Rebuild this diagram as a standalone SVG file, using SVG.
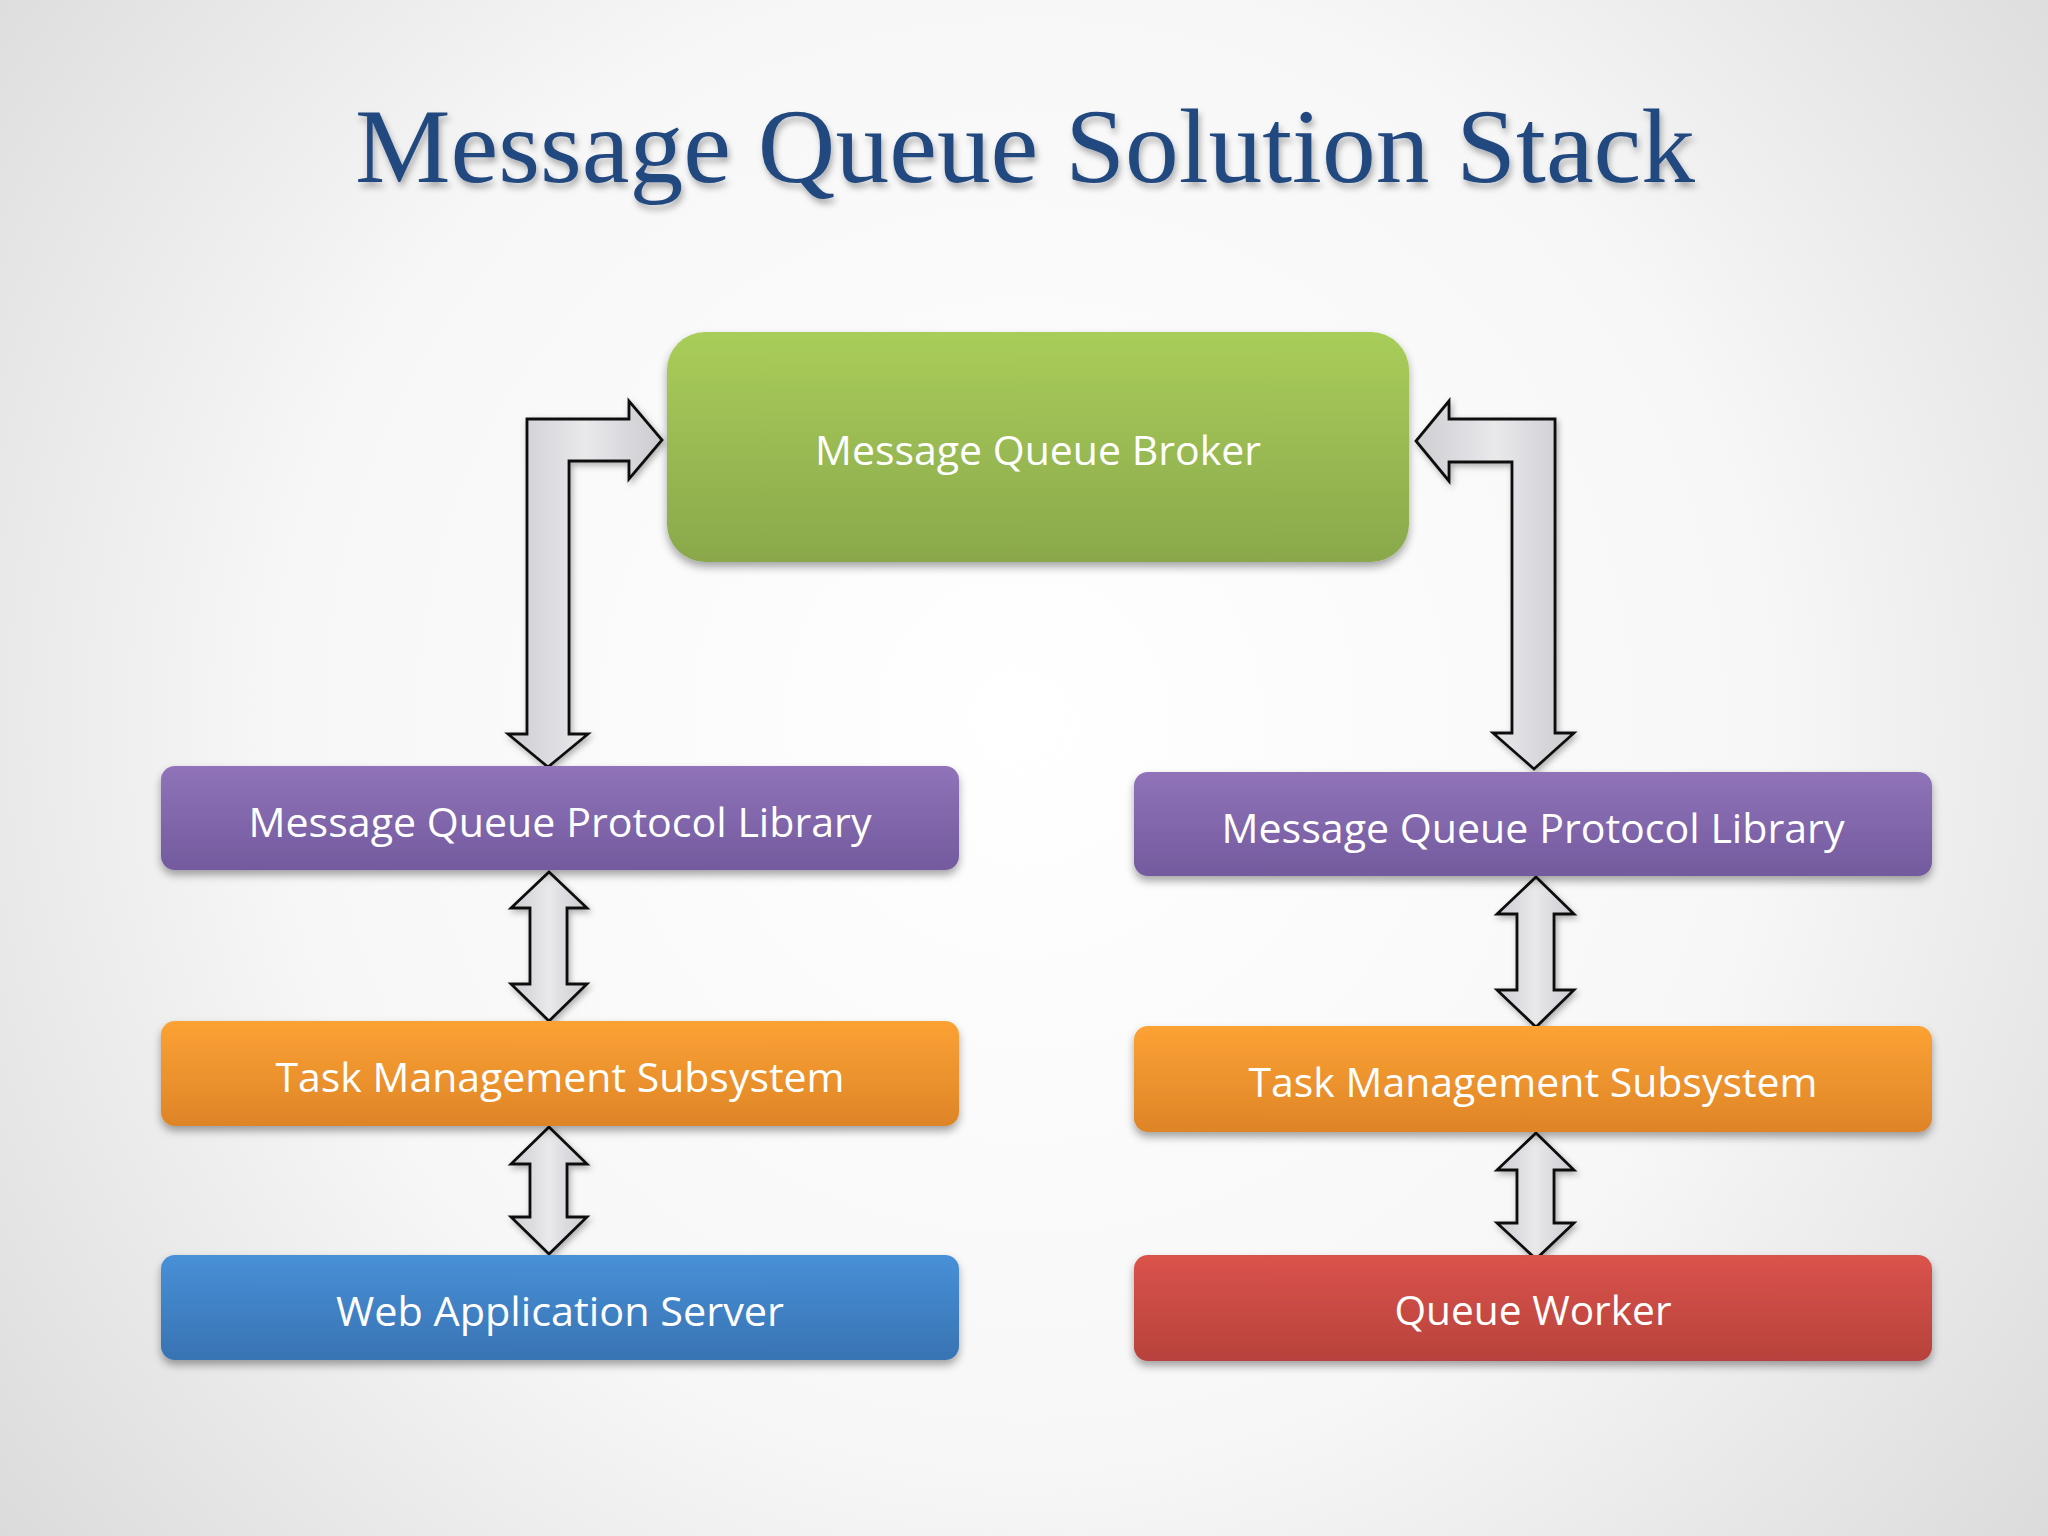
<svg xmlns="http://www.w3.org/2000/svg" width="2048" height="1536" viewBox="0 0 2048 1536">
<defs>
<radialGradient id="bg" cx="1024" cy="720" r="1350" gradientUnits="userSpaceOnUse">
<stop offset="0" stop-color="#ffffff"/>
<stop offset="0.55" stop-color="#f7f7f7"/>
<stop offset="1" stop-color="#d9d9d9"/>
</radialGradient>
<linearGradient id="gGreen" x1="0" y1="0" x2="0" y2="1">
<stop offset="0" stop-color="#a9cd5a"/>
<stop offset="1" stop-color="#8aa84b"/>
</linearGradient>
<linearGradient id="gPurple" x1="0" y1="0" x2="0" y2="1">
<stop offset="0" stop-color="#9073b9"/>
<stop offset="1" stop-color="#735a9e"/>
</linearGradient>
<linearGradient id="gOrange" x1="0" y1="0" x2="0" y2="1">
<stop offset="0" stop-color="#fca234"/>
<stop offset="1" stop-color="#de8428"/>
</linearGradient>
<linearGradient id="gBlue" x1="0" y1="0" x2="0" y2="1">
<stop offset="0" stop-color="#4890d7"/>
<stop offset="1" stop-color="#3873b3"/>
</linearGradient>
<linearGradient id="gRed" x1="0" y1="0" x2="0" y2="1">
<stop offset="0" stop-color="#da534b"/>
<stop offset="1" stop-color="#b7423c"/>
</linearGradient>
<linearGradient id="gArrow" x1="0" y1="0" x2="1" y2="0">
<stop offset="0" stop-color="#cdcdd2"/>
<stop offset="0.5" stop-color="#e9e9ec"/>
<stop offset="1" stop-color="#cbcbd0"/>
</linearGradient>
<filter id="shadow" x="-10%" y="-20%" width="120%" height="150%">
<feDropShadow dx="0" dy="5" stdDeviation="4" flood-color="#000" flood-opacity="0.35"/>
</filter>
<filter id="ashadow" x="-20%" y="-20%" width="140%" height="140%">
<feDropShadow dx="2" dy="3" stdDeviation="3" flood-color="#000" flood-opacity="0.3"/>
</filter>
<filter id="tshadow" x="-5%" y="-20%" width="110%" height="150%">
<feDropShadow dx="2" dy="5" stdDeviation="3" flood-color="#000" flood-opacity="0.3"/>
</filter>
</defs>
<style>
.lbl{font-family:"Open Sans","Noto Sans",sans-serif;fill:#ffffff;text-anchor:middle;}
.box{filter:url(#shadow);}
.arr{stroke:#111;stroke-width:2.8;stroke-linejoin:miter;filter:url(#ashadow);}
.title{font-family:"Liberation Serif","DejaVu Serif",serif;fill:#23497f;text-anchor:middle;filter:url(#tshadow);}
</style>
<rect x="0" y="0" width="2048" height="1536" fill="url(#bg)"/>

<text class="title" x="1025" y="182" font-size="106" textLength="1340" lengthAdjust="spacingAndGlyphs">Message Queue Solution Stack</text>

<g id="connectors">
<path class="arr" fill="url(#gArrow)" d="M527,419 L629,419 L629,401 L662,440 L629,479 L629,461 L569,461 L569,734 L588,734 L548,767 L508,734 L527,734 Z"/>
<path class="arr" fill="url(#gArrow)" d="M1555,419 L1449,419 L1449,401 L1416,441 L1449,481 L1449,462 L1512,462 L1512,733 L1493,733 L1534,769 L1574,733 L1555,733 Z"/>
<path class="arr" fill="url(#gArrow)" d="M549,872 L587,908 L567,908 L567,984 L587,984 L549,1021 L511,984 L530,984 L530,908 L511,908 Z"/>
<path class="arr" fill="url(#gArrow)" d="M549,1127 L587,1164 L567,1164 L567,1217 L587,1217 L549,1254 L511,1217 L530,1217 L530,1164 L511,1164 Z"/>
<path class="arr" fill="url(#gArrow)" d="M1536,877 L1574,914 L1554,914 L1554,990 L1574,990 L1536,1027 L1497,990 L1517,990 L1517,914 L1497,914 Z"/>
<path class="arr" fill="url(#gArrow)" d="M1536,1133 L1574,1170 L1554,1170 L1554,1223 L1574,1223 L1536,1259 L1497,1223 L1517,1223 L1517,1170 L1497,1170 Z"/>
</g>

<g id="broker">
<rect class="box" x="667" y="332" width="742" height="230" rx="38" fill="url(#gGreen)"/>
<text class="lbl" x="1038" y="465" font-size="41" textLength="446" lengthAdjust="spacingAndGlyphs">Message Queue Broker</text>
</g>

<g id="protocol-left">
<rect class="box" x="161" y="766" width="798" height="104" rx="14" fill="url(#gPurple)"/>
<text class="lbl" x="560" y="837" font-size="40" textLength="623" lengthAdjust="spacingAndGlyphs">Message Queue Protocol Library</text>
</g>
<g id="task-left">
<rect class="box" x="161" y="1021" width="798" height="105" rx="14" fill="url(#gOrange)"/>
<text class="lbl" x="560" y="1092" font-size="40" textLength="569" lengthAdjust="spacingAndGlyphs">Task Management Subsystem</text>
</g>
<g id="webapp">
<rect class="box" x="161" y="1255" width="798" height="105" rx="14" fill="url(#gBlue)"/>
<text class="lbl" x="560" y="1326" font-size="40" textLength="448" lengthAdjust="spacingAndGlyphs">Web Application Server</text>
</g>

<g id="protocol-right">
<rect class="box" x="1134" y="772" width="798" height="104" rx="14" fill="url(#gPurple)"/>
<text class="lbl" x="1533" y="843" font-size="40" textLength="623" lengthAdjust="spacingAndGlyphs">Message Queue Protocol Library</text>
</g>
<g id="task-right">
<rect class="box" x="1134" y="1026" width="798" height="106" rx="14" fill="url(#gOrange)"/>
<text class="lbl" x="1533" y="1097" font-size="40" textLength="569" lengthAdjust="spacingAndGlyphs">Task Management Subsystem</text>
</g>
<g id="worker">
<rect class="box" x="1134" y="1255" width="798" height="106" rx="14" fill="url(#gRed)"/>
<text class="lbl" x="1533" y="1325" font-size="40" textLength="277" lengthAdjust="spacingAndGlyphs">Queue Worker</text>
</g>
</svg>
